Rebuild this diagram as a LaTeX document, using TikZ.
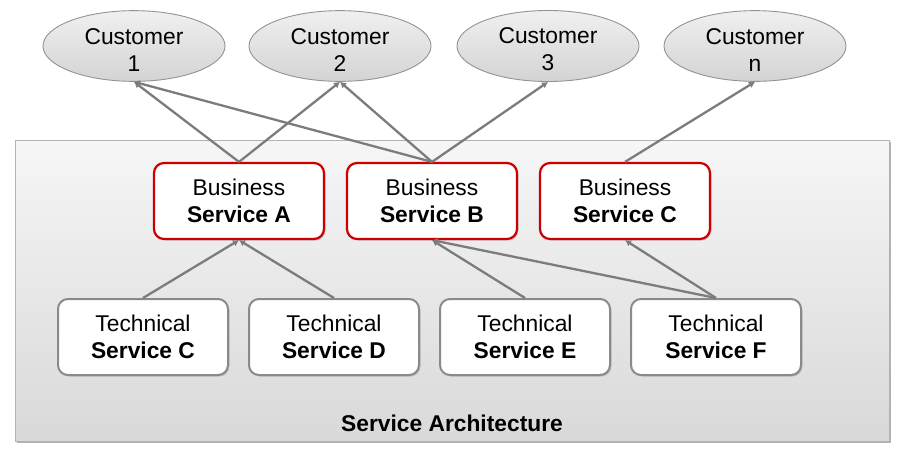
\documentclass[tikz,border=0pt]{standalone}
\usepackage{fontspec}
\setmainfont{Liberation Sans}
\usetikzlibrary{arrows.meta,shadows,shapes.geometric}
\definecolor{arrowgray}{HTML}{7C7C7C}
\definecolor{bizred}{HTML}{CC0000}
\definecolor{techgray}{HTML}{8A8A8A}
\begin{document}
\begin{tikzpicture}[x=1pt,y=-1pt,
  every node/.style={font=\fontsize{22.8}{27}\selectfont, align=center},
  customer/.style={ellipse, draw=gray!85, line width=0.9pt, top color=gray!12, bottom color=gray!34,
    minimum width=182pt, minimum height=62pt, inner sep=0pt},
  bizbox/.style={rectangle, rounded corners=10pt, draw=bizred, line width=2.2pt, fill=white,
    minimum width=170pt, minimum height=76pt, inner sep=0pt,
    drop shadow={shadow xshift=1.5pt, shadow yshift=-1.5pt, opacity=0.35}},
  techbox/.style={rectangle, rounded corners=10pt, draw=techgray, line width=2pt, fill=white,
    minimum width=170pt, minimum height=76pt, inner sep=0pt,
    drop shadow={shadow xshift=1.5pt, shadow yshift=-1.5pt, opacity=0.35}},
  link/.style={draw=arrowgray, line width=2.3pt, -{Latex[length=6pt,width=7pt]}}
]
\useasboundingbox (0,0) rectangle (899,448);
\fill[white] (0,0) rectangle (899,448);
% container
\fill[gray!60] (17,142) rectangle (891,443);
\node[draw=gray!60, line width=0.8pt, top color=gray!7, bottom color=gray!30,
  minimum width=874pt, minimum height=301pt, inner sep=0pt, anchor=north west] (arch) at (15,140) {};
\node[font=\bfseries\fontsize{22.8}{27}\selectfont] (archlabel) at (452,423) {Service Architecture};

% customers
\node[customer] (c1) at (134,46) {\rule{0pt}{23pt}Customer\\1};
\node[customer] (c2) at (340,46) {\rule{0pt}{23pt}Customer\\2};
\node[customer] (c3) at (548,46) {\rule{0pt}{23pt}Customer\\3};
\node[customer] (cn) at (755,46) {\rule{0pt}{23pt}Customer\\n};

% business services
\node[bizbox] (ba) at (239,201) {Business\\\textbf{Service A}};
\node[bizbox] (bb) at (432,201) {Business\\\textbf{Service B}};
\node[bizbox] (bc) at (625,201) {Business\\\textbf{Service C}};

% technical services
\node[techbox] (tc) at (143,337) {Technical\\\textbf{Service C}};
\node[techbox] (td) at (334,337) {Technical\\\textbf{Service D}};
\node[techbox] (te) at (525,337) {Technical\\\textbf{Service E}};
\node[techbox] (tf) at (716,337) {Technical\\\textbf{Service F}};

% business -> customers
\draw[link] (ba.north) -- (c1.south);
\draw[link] (ba.north) -- (c2.south);
\draw[link] (bb.north) -- (c1.south);
\draw[link] (bb.north) -- (c2.south);
\draw[link] (bb.north) -- (c3.south);
\draw[link] (bc.north) -- (cn.south);

% technical -> business
\draw[link] (tc.north) -- (ba.south);
\draw[link] (td.north) -- (ba.south);
\draw[link] (te.north) -- (bb.south);
\draw[link] (tf.north) -- (bb.south);
\draw[link] (tf.north) -- (bc.south);
\end{tikzpicture}
\end{document}
